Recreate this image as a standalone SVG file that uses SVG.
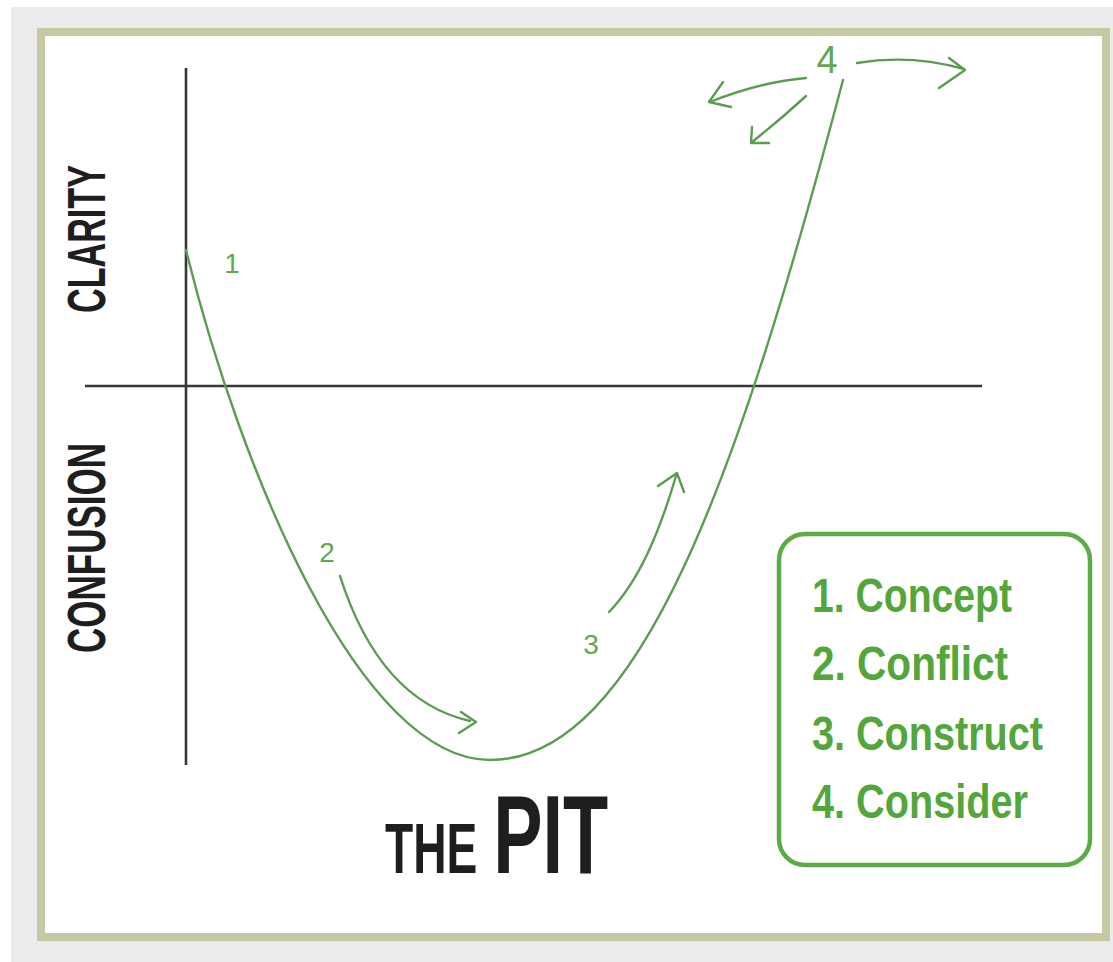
<svg xmlns="http://www.w3.org/2000/svg" width="1113" height="962" viewBox="0 0 1113 962">
  <style>
    .axis { stroke: #363636; stroke-width: 2.6; fill: none; }
    .curve { stroke: #5c9c52; stroke-width: 2.4; fill: none; stroke-linecap: round; stroke-linejoin: round; }
    .digit { font-family: "Liberation Sans", Arial, sans-serif; fill: #62a852; }
    .label { font-family: "Liberation Sans", Arial, sans-serif; font-weight: bold; fill: #1e1e1e; }
    .legend { font-family: "Liberation Sans", Arial, sans-serif; font-weight: bold; fill: #52a63a; font-size: 48px; }
  </style>
  <rect x="0" y="0" width="1113" height="962" fill="#ffffff"/>
  <rect x="11" y="7" width="1102" height="955" fill="#ebebeb"/>
  <g id="frame">
    <rect x="41" y="32" width="1065" height="905" fill="#ffffff" stroke="#c6c8a2" stroke-width="8"/>
  </g>
  <g id="axes">
    <line class="axis" x1="186" y1="68" x2="186" y2="765"/>
    <line class="axis" x1="85" y1="386" x2="982" y2="386"/>
  </g>
  <g id="axis-labels">
    <text class="label" font-size="53" transform="translate(105,313) rotate(-90)" textLength="148" lengthAdjust="spacingAndGlyphs">CLARITY</text>
    <text class="label" font-size="53" transform="translate(105,653) rotate(-90)" textLength="210" lengthAdjust="spacingAndGlyphs">CONFUSION</text>
  </g>
  <g id="title">
    <text class="label" transform="translate(385,873) scale(0.66,1)" x="0" y="0"><tspan font-size="70">THE</tspan><tspan font-size="112" dx="24">PIT</tspan></text>
  </g>
  <g id="connectors">
    <path id="pit-curve" class="curve" d="M186,250 C240,470 360,760 490,760 C640,760 740,470 843,80"/>
    <path id="arrow-2" class="curve" d="M340,576 C362,645 400,705 470,721 M461,712 L476,722 L459,733"/>
    <path id="arrow-3" class="curve" d="M609,612 C640,580 660,530 676,476 M658,486 L677,473 L684,492"/>
    <path id="arrow-4a" class="curve" d="M806,78 Q760,82 710,102 M723,82 L709,102 L731,107"/>
    <path id="arrow-4b" class="curve" d="M806,96 Q780,120 752,142 M752,127 L751,143 L769,143"/>
    <path id="arrow-4c" class="curve" d="M857,63 Q910,54 964,69 M949,58 L965,70 L939,88"/>
  </g>
  <g id="step-labels">
    <text class="digit" x="232" y="273" font-size="28" text-anchor="middle">1</text>
    <text class="digit" x="327" y="562" font-size="28" text-anchor="middle">2</text>
    <text class="digit" x="591" y="654" font-size="28" text-anchor="middle">3</text>
    <text class="digit" x="827" y="73" font-size="38" text-anchor="middle">4</text>
  </g>
  <g id="legend">
    <rect x="779" y="534" width="311" height="331" rx="26" ry="26" fill="#ffffff" stroke="#5cab45" stroke-width="4.5"/>
    <text class="legend" x="812" y="612" textLength="200" lengthAdjust="spacingAndGlyphs">1. Concept</text>
    <text class="legend" x="812" y="680" textLength="196" lengthAdjust="spacingAndGlyphs">2. Conflict</text>
    <text class="legend" x="812" y="750" textLength="231" lengthAdjust="spacingAndGlyphs">3. Construct</text>
    <text class="legend" x="812" y="818" textLength="216" lengthAdjust="spacingAndGlyphs">4. Consider</text>
  </g>
</svg>
